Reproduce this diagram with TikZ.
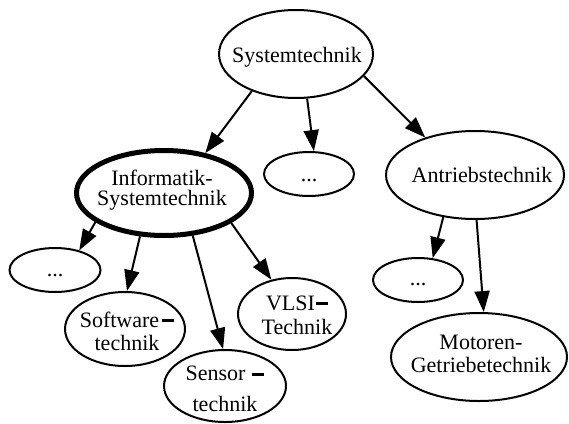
\documentclass[tikz,border=0pt]{standalone}
\usepackage{fontspec}
\setmainfont{Liberation Serif}
\usetikzlibrary{arrows.meta,shapes.geometric}
% short heavy bar used as a line-break hyphen
\newcommand{\barhyph}[1]{\hspace{#1}\rule[5pt]{12pt}{3pt}}

\begin{document}
\begin{tikzpicture}[x=1pt,y=-1pt,
  oval/.style={draw, ellipse, line width=2pt, inner sep=0pt},
  heavyoval/.style={oval, line width=5pt},
  txt/.style={font=\fontsize{22}{22}\selectfont, align=center, inner sep=0pt},
  edge/.style={line width=2pt, -{Triangle[length=21pt,width=15pt]}}]
\useasboundingbox (0,0) rectangle (569,423);

% ellipses
\node[oval, minimum width=154, minimum height=88] (sys) at (296,54) {};
\node[heavyoval, minimum width=175, minimum height=85] (inf) at (164,193) {};
\node[oval, minimum width=90, minimum height=44] (mid) at (309,174) {};
\node[oval, minimum width=178, minimum height=88] (ant) at (475,175) {};
\node[oval, minimum width=91, minimum height=44] (lft) at (55,270) {};
\node[oval, minimum width=120, minimum height=74] (soft) at (125,329) {};
\node[oval, minimum width=122, minimum height=72] (sens) at (225,386) {};
\node[oval, minimum width=108, minimum height=72] (vlsi) at (292,314) {};
\node[oval, minimum width=90, minimum height=44] (rgt) at (418,280) {};
\node[oval, minimum width=176, minimum height=88] (mot) at (479,357) {};

% labels
\node[txt] (sys-t) at (297,57) {Systemtechnik};
\node[txt] (inf-t) at (162,190) {Informatik-\\[-2pt]Systemtechnik};
\node[txt] (mid-t) at (309,181) {...};
\node[txt] (ant-t) at (482,175) {Antriebstechnik};
\node[txt] (lft-t) at (55,276) {...};
\node[txt] (soft-t) at (127,331) {Software\barhyph{3pt}\\[1pt]technik};
\node[txt] (sens-t) at (225,389) {Sensor\barhyph{7pt}\\[9pt]technik};
\node[txt] (vlsi-t) at (297,315) {VLSI\barhyph{1pt}\\[2pt]Technik};
\node[txt] (rgt-t) at (418,285) {...};
\node[txt] (mot-t) at (481,354) {Motoren-\\[1pt]Getriebetechnik};

% connectors
\draw[edge] (sys.-140) -- (inf.44);
\draw[edge] (sys.-76) -- (mid.78);
\draw[edge] (sys.-18) -- (ant.143);
\draw[edge] (inf.-157) -- (lft.39);
\draw[edge] (inf.-119) -- (soft.87);
\draw[edge] (inf.-56) -- (sens.93);
\draw[edge] (inf.-24) -- (vlsi.121);
\draw[edge] (ant.-127) -- (rgt.56);
\draw[edge] (ant.-88) -- (mot.84);
\end{tikzpicture}
\end{document}
